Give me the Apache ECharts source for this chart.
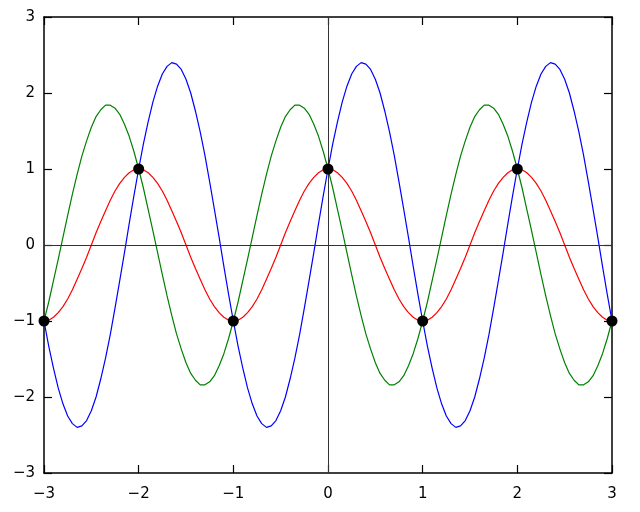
<!DOCTYPE html>
<html>
<head>
<meta charset="utf-8">
<script src="https://cdn.jsdelivr.net/npm/echarts@6/dist/echarts.min.js"></script>
<style>html,body{margin:0;padding:0;background:#fff}#c{width:640px;height:512px}</style>
</head>
<body>
<div id="c"></div>
<script>
const xs = [-3.00,-2.95,-2.90,-2.85,-2.80,-2.75,-2.70,-2.65,-2.60,-2.55,-2.50,-2.45,-2.40,-2.35,-2.30,-2.25,-2.20,-2.15,-2.10,-2.05,
  -2.00,-1.95,-1.90,-1.85,-1.80,-1.75,-1.70,-1.65,-1.60,-1.55,-1.50,-1.45,-1.40,-1.35,-1.30,-1.25,-1.20,-1.15,-1.10,-1.05,
  -1.00,-0.95,-0.90,-0.85,-0.80,-0.75,-0.70,-0.65,-0.60,-0.55,-0.50,-0.45,-0.40,-0.35,-0.30,-0.25,-0.20,-0.15,-0.10,-0.05,
  0.00,0.05,0.10,0.15,0.20,0.25,0.30,0.35,0.40,0.45,0.50,0.55,0.60,0.65,0.70,0.75,0.80,0.85,0.90,0.95,
  1.00,1.05,1.10,1.15,1.20,1.25,1.30,1.35,1.40,1.45,1.50,1.55,1.60,1.65,1.70,1.75,1.80,1.85,1.90,1.95,
  2.00,2.05,2.10,2.15,2.20,2.25,2.30,2.35,2.40,2.45,2.50,2.55,2.60,2.65,2.70,2.75,2.80,2.85,2.90,2.95,3.00];
const redY = [-1,-0.99,-0.95,-0.89,-0.81,-0.71,-0.59,-0.45,-0.31,-0.16,0,0.16,0.31,0.45,0.59,0.71,0.81,0.89,0.95,0.99,
  1,0.99,0.95,0.89,0.81,0.71,0.59,0.45,0.31,0.16,0,-0.16,-0.31,-0.45,-0.59,-0.71,-0.81,-0.89,-0.95,-0.99,
  -1,-0.99,-0.95,-0.89,-0.81,-0.71,-0.59,-0.45,-0.31,-0.16,0,0.16,0.31,0.45,0.59,0.71,0.81,0.89,0.95,0.99,
  1,0.99,0.95,0.89,0.81,0.71,0.59,0.45,0.31,0.16,0,-0.16,-0.31,-0.45,-0.59,-0.71,-0.81,-0.89,-0.95,-0.99,
  -1,-0.99,-0.95,-0.89,-0.81,-0.71,-0.59,-0.45,-0.31,-0.16,0,0.16,0.31,0.45,0.59,0.71,0.81,0.89,0.95,0.99,
  1,0.99,0.95,0.89,0.81,0.71,0.59,0.45,0.31,0.16,0,-0.16,-0.31,-0.45,-0.59,-0.71,-0.81,-0.89,-0.95,-0.99,-1];
const greenY = [-1,-0.75,-0.47,-0.19,0.10,0.39,0.67,0.93,1.17,1.37,1.55,1.69,1.78,1.84,1.84,1.80,1.72,1.59,1.43,1.23,
  1,0.75,0.47,0.19,-0.10,-0.39,-0.67,-0.93,-1.17,-1.37,-1.55,-1.69,-1.78,-1.84,-1.84,-1.80,-1.72,-1.59,-1.43,-1.23,
  -1,-0.75,-0.47,-0.19,0.10,0.39,0.67,0.93,1.17,1.37,1.55,1.69,1.78,1.84,1.84,1.80,1.72,1.59,1.43,1.23,
  1,0.75,0.47,0.19,-0.10,-0.39,-0.67,-0.93,-1.17,-1.37,-1.55,-1.69,-1.78,-1.84,-1.84,-1.80,-1.72,-1.59,-1.43,-1.23,
  -1,-0.75,-0.47,-0.19,0.10,0.39,0.67,0.93,1.17,1.37,1.55,1.69,1.78,1.84,1.84,1.80,1.72,1.59,1.43,1.23,
  1,0.75,0.47,0.19,-0.10,-0.39,-0.67,-0.93,-1.17,-1.37,-1.55,-1.69,-1.78,-1.84,-1.84,-1.80,-1.72,-1.59,-1.43,-1.23,-1];
const blueY = [-1,-1.33,-1.62,-1.88,-2.09,-2.25,-2.35,-2.40,-2.38,-2.31,-2.18,-2.00,-1.76,-1.49,-1.18,-0.83,-0.47,-0.10,0.28,0.65,
  1,1.33,1.62,1.88,2.09,2.25,2.35,2.40,2.38,2.31,2.18,2.00,1.76,1.49,1.18,0.83,0.47,0.10,-0.28,-0.65,
  -1,-1.33,-1.62,-1.88,-2.09,-2.25,-2.35,-2.40,-2.38,-2.31,-2.18,-2.00,-1.76,-1.49,-1.18,-0.83,-0.47,-0.10,0.28,0.65,
  1,1.33,1.62,1.88,2.09,2.25,2.35,2.40,2.38,2.31,2.18,2.00,1.76,1.49,1.18,0.83,0.47,0.10,-0.28,-0.65,
  -1,-1.33,-1.62,-1.88,-2.09,-2.25,-2.35,-2.40,-2.38,-2.31,-2.18,-2.00,-1.76,-1.49,-1.18,-0.83,-0.47,-0.10,0.28,0.65,
  1,1.33,1.62,1.88,2.09,2.25,2.35,2.40,2.38,2.31,2.18,2.00,1.76,1.49,1.18,0.83,0.47,0.10,-0.28,-0.65,-1];
const dotX = [-3,-2,-1,0,1,2,3];
const dotY = [-1,1,-1,1,-1,1,-1];

const pair = (a) => xs.map((x,i)=>[x,a[i]]);
const fmt = v => String(v).replace('-', '\u2212');
const font = {fontFamily:'DejaVu Sans', fontSize:15, color:'#000'};
const axLine = {show:true, onZero:false, lineStyle:{color:'#000', width:1.5}};
const tick = {show:true, inside:true, length:8, lineStyle:{color:'#000', width:1.2}};

const chart = echarts.init(document.getElementById('c'), null, {renderer:'canvas'});
chart.setOption({
  animation:false,
  grid:{left:44, right:28, top:17, bottom:39},
  xAxis:[
    {type:'value', min:-3, max:3, interval:1, position:'bottom', axisLine:axLine, axisTick:tick,
     splitLine:{show:false}, axisLabel:Object.assign({margin:14, formatter:fmt}, font)},
    {type:'value', min:-3, max:3, interval:1, position:'top', axisLine:axLine, axisTick:tick,
     splitLine:{show:false}, axisLabel:{show:false}}
  ],
  yAxis:[
    {type:'value', min:-3, max:3, interval:1, position:'left', axisLine:axLine, axisTick:tick,
     splitLine:{show:false}, axisLabel:Object.assign({margin:9, formatter:fmt}, font)},
    {type:'value', min:-3, max:3, interval:1, position:'right', axisLine:axLine, axisTick:tick,
     splitLine:{show:false}, axisLabel:{show:false}}
  ],
  series:[
    {type:'line', data:pair(redY), smooth:false, showSymbol:false, lineStyle:{color:'#ff0000', width:1.2},
     markLine:{silent:true, symbol:'none', label:{show:false}, lineStyle:{color:'#333', width:1, type:'solid'},
       data:[{xAxis:0},{yAxis:0}]}},
    {type:'line', data:pair(greenY), smooth:false, showSymbol:false, lineStyle:{color:'#008000', width:1.2}},
    {type:'line', data:pair(blueY), smooth:false, showSymbol:false, lineStyle:{color:'#0000ff', width:1.2}},
    {type:'scatter', data:dotX.map((x,i)=>[x,dotY[i]]), symbol:'circle', symbolSize:11,
     itemStyle:{color:'#000', opacity:1}, z:5}
  ]
});
</script>
</body>
</html>
